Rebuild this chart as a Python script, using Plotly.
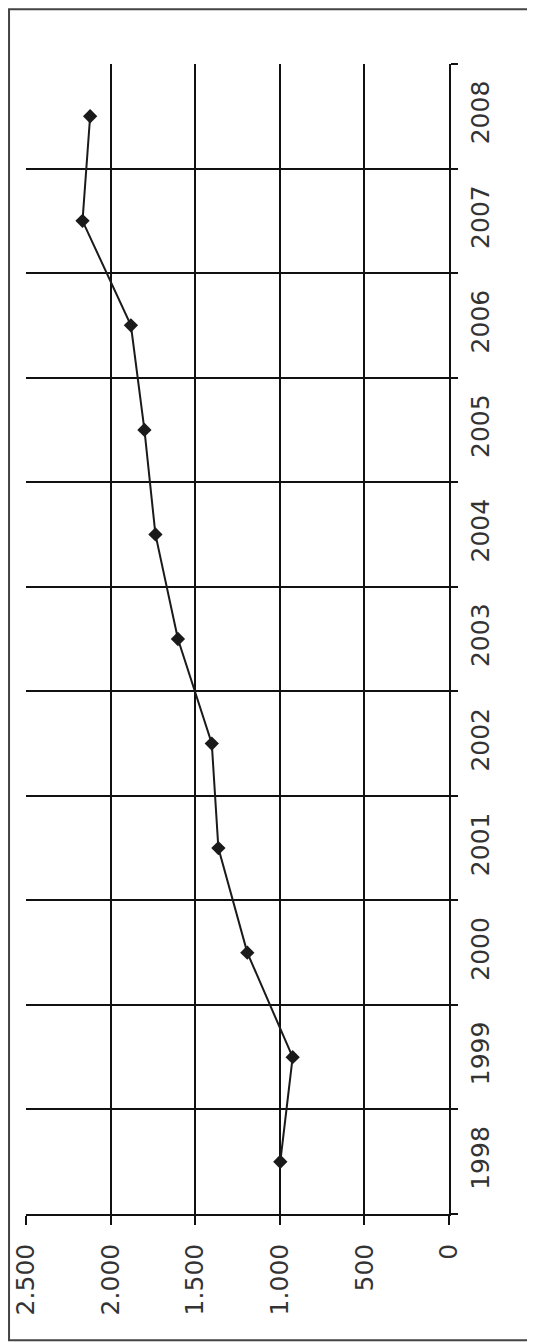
import plotly.graph_objects as go

years = ["1998", "1999", "2000", "2001", "2002", "2003", "2004", "2005", "2006", "2007", "2008"]
values = [997, 924, 1192, 1363, 1402, 1602, 1735, 1800, 1880, 2166, 2121]
value_ticks = [0, 500, 1000, 1500, 2000, 2500]
value_tick_labels = ["0", "500", "1.000", "1.500", "2.000", "2.500"]

# page body has an 8px margin, so the figure is sized/offset accordingly
W, H = 527, 1334
ml, mr, mt, mb = 17.5, 85.7, 56.3, 127.7
pw, ph = W - ml - mr, H - mt - mb

fig = go.Figure()
fig.add_trace(go.Scatter(
    x=values, y=years, mode="lines+markers",
    line=dict(color="#1a1a1a", width=2),
    marker=dict(symbol="diamond", size=11, color="#1a1a1a"),
    showlegend=False, hoverinfo="skip",
))

font = dict(family="DejaVu Sans", size=25, color="#333333")

fig.update_layout(
    width=W, height=H,
    margin=dict(l=ml, r=mr, t=mt, b=mb, pad=0, autoexpand=False),
    paper_bgcolor="white", plot_bgcolor="white",
    xaxis=dict(
        range=[2500, 0], tickvals=value_ticks, ticktext=value_tick_labels,
        tickangle=-90, tickfont=font, ticklabelstandoff=9,
        ticks="outside", ticklen=9, tickwidth=1.5, tickcolor="#111111",
        showgrid=True, gridcolor="#111111", gridwidth=1.6,
        showline=True, linecolor="#111111", linewidth=1.6,
        zeroline=False, fixedrange=True, automargin=False,
    ),
    yaxis=dict(
        type="category", categoryorder="array", categoryarray=years,
        range=[-0.5, len(years) - 0.5],
        side="right", tickangle=-90, tickfont=font, ticklabelstandoff=8,
        tickson="boundaries", ticks="outside", ticklen=7, tickwidth=1.5, tickcolor="#111111",
        showgrid=True, gridcolor="#111111", gridwidth=1.6,
        showline=True, linecolor="#111111", linewidth=1.6,
        zeroline=False, fixedrange=True, automargin=False,
    ),
    shapes=[dict(
        type="rect", xref="paper", yref="paper",
        x0=(0.5 - ml) / pw, x1=(526 - ml) / pw,
        y0=(H - mb - 1332.5) / ph, y1=(H - mb - 1.5) / ph,
        line=dict(color="#444444", width=2), fillcolor="rgba(0,0,0,0)", layer="below",
    )],
)

fig.write_html("out.html")
